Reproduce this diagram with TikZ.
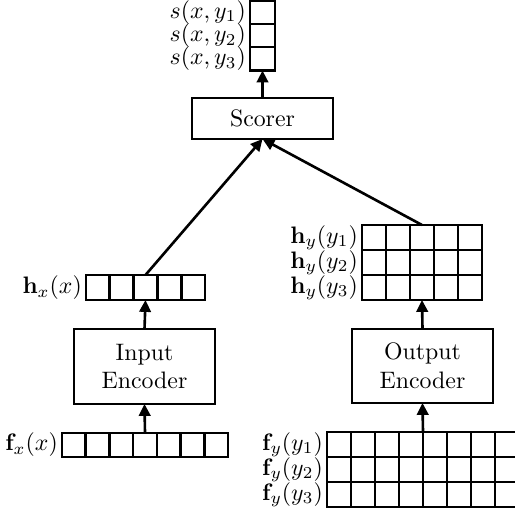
\documentclass[tikz,border=0pt]{standalone}
\usetikzlibrary{arrows.meta,calc}
\newcommand{\vgrid}[2]{\foreach \i in {#2} \draw ($(#1.north west)!\i!(#1.north east)$) -- ($(#1.south west)!\i!(#1.south east)$);}
\newcommand{\hgrid}[2]{\foreach \i in {#2} \draw ($(#1.north west)!\i!(#1.south west)$) -- ($(#1.north east)!\i!(#1.south east)$);}
\begin{document}
\begin{tikzpicture}[x=0.42pt,y=-0.42pt,line width=1.1pt,
  cellbox/.style 2 args={draw,inner sep=0pt,outer sep=0pt,minimum width=#1*0.42pt,minimum height=#2*0.42pt},
  textbox/.style 2 args={draw,inner sep=0pt,outer sep=0pt,align=center,minimum width=#1*0.42pt,minimum height=#2*0.42pt},
  lbl/.style={anchor=east,inner sep=0pt,xshift=-1.2pt},
  arr/.style={-{Triangle[length=5pt,width=4.8pt]}}]
\useasboundingbox (0,0) rectangle (515,513);
% nodes
\node[cellbox={25}{70}] (score) at (262.5,35.5) {};
\node[textbox={141}{41}] (scorer) at (262.5,118.5) {Scorer};
\node[cellbox={119}{25}] (hx) at (145.5,287.5) {};
\node[textbox={141}{75}] (inenc) at (144.5,366.5) {Input\\Encoder};
\node[cellbox={166}{24}] (fx) at (145,445) {};
\node[cellbox={120}{75}] (hy) at (422,262.5) {};
\node[textbox={141}{74}] (outenc) at (422.5,366) {Output\\Encoder};
\node[cellbox={192}{75}] (fy) at (423,469.5) {};
% grid lines
\hgrid{score}{1/3,2/3}
\vgrid{hx}{1/5,2/5,3/5,4/5}
\vgrid{fx}{1/7,2/7,3/7,4/7,5/7,6/7}
\vgrid{hy}{1/5,2/5,3/5,4/5}
\hgrid{hy}{1/3,2/3}
\vgrid{fy}{1/8,2/8,3/8,4/8,5/8,6/8,7/8}
\hgrid{fy}{1/3,2/3}
% labels
\node[lbl] (ls1) at ($(score.north west)!1/6!(score.south west)$) {$s(x,y_1)$};
\node[lbl] (ls2) at ($(score.north west)!3/6!(score.south west)$) {$s(x,y_2)$};
\node[lbl] (ls3) at ($(score.north west)!5/6!(score.south west)$) {$s(x,y_3)$};
\node[lbl] (lhx) at (hx.west) {$\mathbf{h}_x(x)$};
\node[lbl] (lfx) at (fx.west) {$\mathbf{f}_x(x)$};
\node[lbl] (lhy1) at ($(hy.north west)!1/6!(hy.south west)$) {$\mathbf{h}_y(y_1)$};
\node[lbl] (lhy2) at ($(hy.north west)!3/6!(hy.south west)$) {$\mathbf{h}_y(y_2)$};
\node[lbl] (lhy3) at ($(hy.north west)!5/6!(hy.south west)$) {$\mathbf{h}_y(y_3)$};
\node[lbl] (lfy1) at ($(fy.north west)!1/6!(fy.south west)$) {$\mathbf{f}_y(y_1)$};
\node[lbl] (lfy2) at ($(fy.north west)!3/6!(fy.south west)$) {$\mathbf{f}_y(y_2)$};
\node[lbl] (lfy3) at ($(fy.north west)!5/6!(fy.south west)$) {$\mathbf{f}_y(y_3)$};
% connectors
\draw[arr] (fx.north) -- (inenc.south);
\draw[arr] (inenc.north) -- (hx.south);
\draw[arr] (fy.north) -- (outenc.south);
\draw[arr] (outenc.north) -- (hy.south);
\draw[arr] (hx.north) -- (scorer.south);
\draw[arr] (hy.north) -- (scorer.south);
\draw[arr] (scorer.north) -- (score.south);
\end{tikzpicture}
\end{document}
